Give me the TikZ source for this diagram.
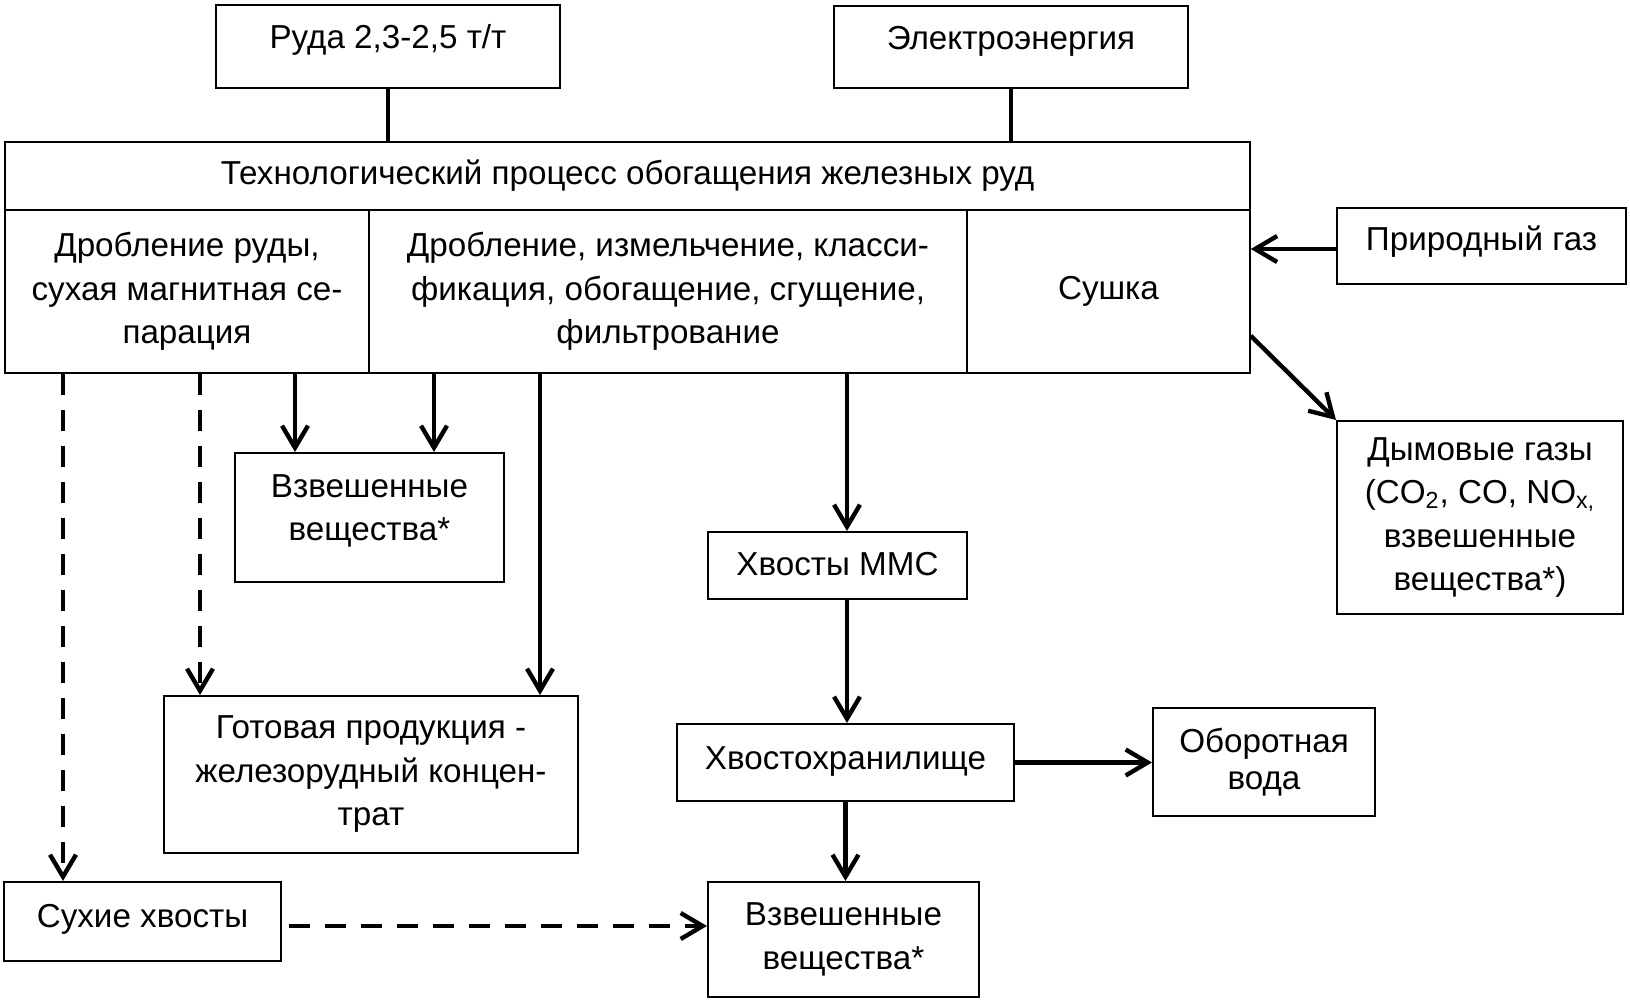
\documentclass[tikz,border=0pt]{standalone}
\usepackage{fontspec}
\setmainfont{Liberation Sans}
\usetikzlibrary{arrows.meta}
\begin{document}
\begin{tikzpicture}[x=0.5pt,y=-0.5pt,
  box/.style={draw, line width=1pt, inner sep=0pt, align=center, font=\fontsize{16.6}{21.75}\selectfont},
  mbox/.style={box, line width=0.8pt},
  lift/.style={text height=12pt, text depth=#1},
  conn/.style={line width=2.2pt},
  arr/.style={conn, -{Straight Barb[length=11pt,width=13pt]}},
  darr/.style={arr, dash pattern=on 10.5pt off 7.5pt},
]
\useasboundingbox[fill=white] (0,0) rectangle (1630,1001);

% top inputs
\node[box, lift=9.7pt, minimum width=172pt, minimum height=41.5pt] (ruda) at (388,46.5) {Руда 2,3-2,5 т/т};
\node[box, lift=9.7pt, minimum width=177pt, minimum height=41pt] (elec) at (1011,47) {Электроэнергия};

% main process block
\node[mbox, minimum width=622.5pt, minimum height=34pt] (head) at (627.5,176) {Технологический процесс обогащения железных руд};
\node[mbox, minimum width=182pt, minimum height=81.5pt] (col1) at (187,291.5) {Дробление руды,\\сухая магнитная се-\\парация};
\node[mbox, minimum width=299pt, minimum height=81.5pt] (col2) at (668,291.5) {Дробление, измельчение, класси-\\фикация, обогащение, сгущение,\\фильтрование};
\node[mbox, minimum width=141.5pt, minimum height=81.5pt] (col3) at (1108.5,291.5) {Сушка};

% right side
\node[box, lift=7.5pt, minimum width=144.5pt, minimum height=38pt] (prir) at (1481.5,246) {Природный газ};
\node[box, minimum width=143pt, minimum height=96.5pt] (dym) at (1480,517.5) {Дымовые газы\\(CO\textsubscript{2}, CO, NO\textsubscript{x,}\\взвешенные\\вещества*)};

% outputs
\node[box, text height=33.75pt, text depth=10.7pt, minimum width=134.5pt, minimum height=64.5pt] (vz1) at (369.5,517.5) {Взвешенные\\вещества*};
\node[box, lift=2pt, minimum width=129.5pt, minimum height=33.5pt] (hmms) at (837.5,565.5) {Хвосты ММС};
\node[box, minimum width=207pt, minimum height=78.5pt] (gotova) at (371,774.5) {Готовая продукция -\\железорудный концен-\\трат};
\node[box, lift=5.5pt, minimum width=168.5pt, minimum height=38.5pt] (hvh) at (845.5,762.5) {Хвостохранилище};
\node[box, minimum width=111pt, minimum height=54pt, font=\fontsize{16.6}{18.25}\selectfont] (obor) at (1264,762) {Оборотная\\вода};
\node[box, lift=6.5pt, minimum width=138.5pt, minimum height=39.5pt] (suhie) at (142.5,921.5) {Сухие хвосты};
\node[box, minimum width=135.5pt, minimum height=57.5pt] (vz2) at (843.5,939.5) {Взвешенные\\вещества*};

% helper coordinates
\coordinate (xA) at (63,0);
\coordinate (xB) at (200,0);
\coordinate (xC) at (295,0);
\coordinate (xD) at (434,0);
\coordinate (xE) at (540,0);
\coordinate (xF) at (847,0);

% input lines
\draw[conn] (ruda.south) -- (ruda.south |- head.north);
\draw[conn] (elec.south) -- (elec.south |- head.north);

% down arrows
\draw[darr] (xA |- col1.south) -- (xA |- suhie.north);
\draw[darr] (xB |- col1.south) -- (xB |- gotova.north);
\draw[arr] (xC |- col1.south) -- (xC |- vz1.north);
\draw[arr] (xD |- col2.south) -- (xD |- vz1.north);
\draw[arr] (xE |- col2.south) -- (xE |- gotova.north);
\draw[arr] (xF |- col2.south) -- (xF |- hmms.north);
\draw[arr] (xF |- hmms.south) -- (xF |- hvh.north);
\draw[arr] (hvh.south) -- (hvh.south |- vz2.north);
\draw[arr] (hvh.east) -- (hvh.east -| obor.west);

% dry tailings to suspended matter
\coordinate (s0) at ([xshift=3.5pt,yshift=-2.25pt]suhie.east);
\draw[darr] (s0) -- (s0 -| vz2.west);

% natural gas and flue gases
\coordinate (p0) at ([yshift=-1.5pt]prir.west);
\draw[arr] (p0) -- (p0 -| col3.east);
\coordinate (d0) at ([yshift=19pt]col3.south east);
\draw[arr] (d0) -- (dym.north west);
\end{tikzpicture}
\end{document}
